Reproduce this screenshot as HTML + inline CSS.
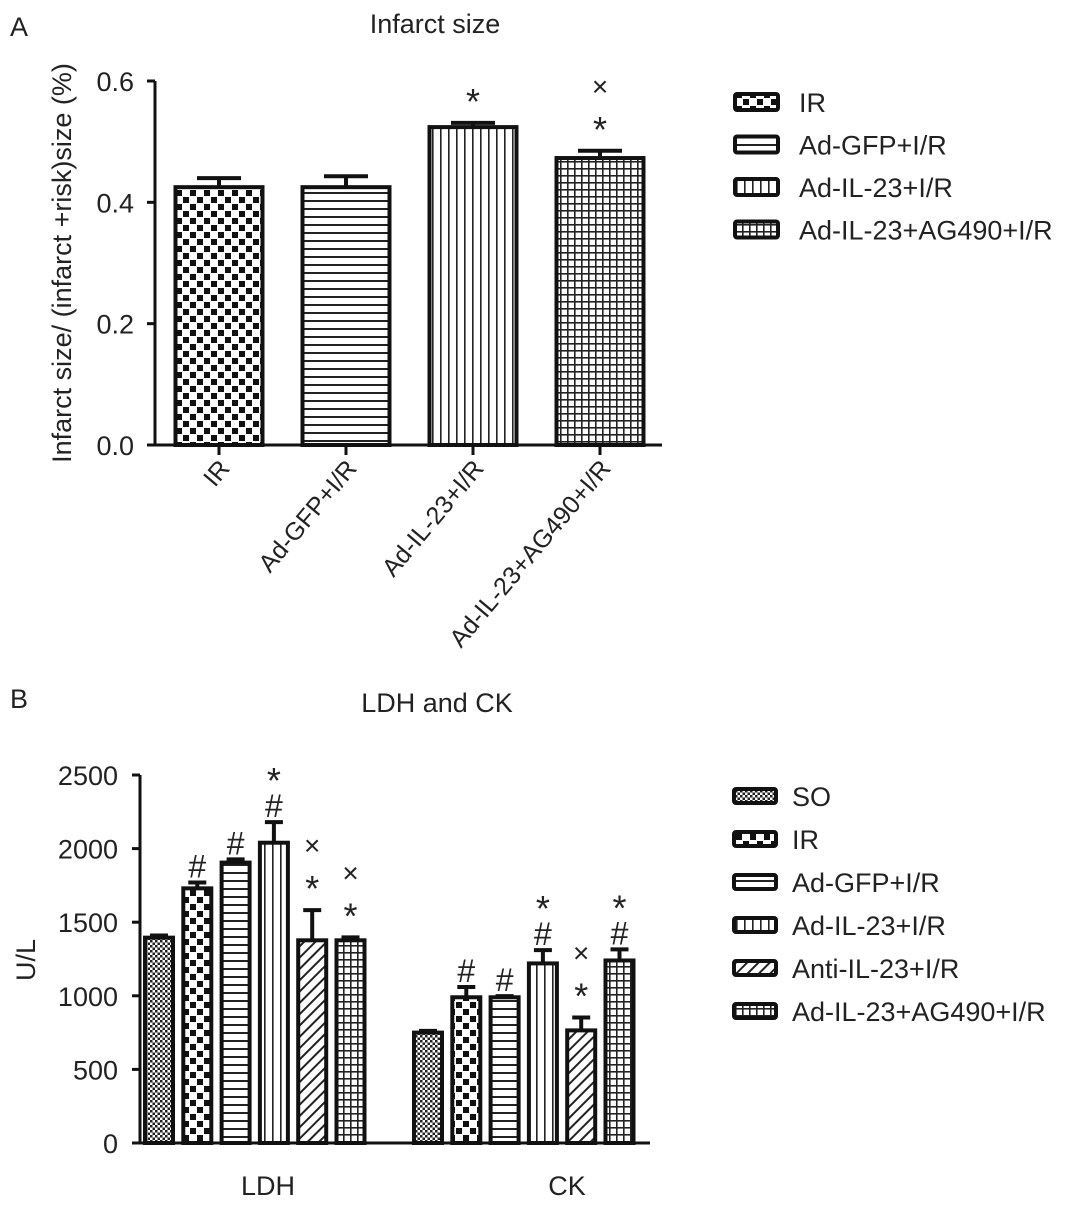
<!DOCTYPE html>
<html><head><meta charset="utf-8"><style>
html,body{margin:0;padding:0;background:#fff;}
svg{display:block;font-family:"Liberation Sans",sans-serif;}
</style></head><body>
<svg id="s" width="1085" height="1208" viewBox="0 0 1085 1208" xmlns="http://www.w3.org/2000/svg">
<defs>
<pattern id="p-so" width="5" height="5" patternUnits="userSpaceOnUse"><rect width="5" height="5" fill="#fff"/><rect width="2.5" height="2.5" fill="#222"/><rect x="2.5" y="2.5" width="2.5" height="2.5" fill="#222"/></pattern>
<pattern id="p-ir" width="14" height="14" patternUnits="userSpaceOnUse"><rect width="14" height="14" fill="#fff"/><rect x="1" y="1" width="6" height="6" fill="#111"/><rect x="8" y="8" width="6" height="6" fill="#111"/></pattern>
<pattern id="p-gfp" width="8" height="8" patternUnits="userSpaceOnUse"><rect width="8" height="8" fill="#fff"/><rect y="0" width="8" height="2" fill="#222"/></pattern>
<pattern id="p-il" width="8" height="8" patternUnits="userSpaceOnUse"><rect width="8" height="8" fill="#fff"/><rect x="0" width="1.6" height="8" fill="#222"/></pattern>
<pattern id="p-anti" width="8" height="8" patternUnits="userSpaceOnUse" patternTransform="rotate(45)"><rect width="8" height="8" fill="#fff"/><rect width="2" height="8" fill="#222"/></pattern>
<pattern id="p-ag" width="7" height="7" patternUnits="userSpaceOnUse"><rect width="7" height="7" fill="#fff"/><rect width="1.6" height="7" fill="#222"/><rect width="7" height="1.6" fill="#222"/></pattern>
</defs>
<g id="A"></g>
<g id="B"></g>
</svg>
<script>
// Panel A data
const aCats = ["IR","Ad-GFP+I/R","Ad-IL-23+I/R","Ad-IL-23+AG490+I/R"];
const aVals = [0.425, 0.425, 0.524, 0.473];
const aErrs = [0.015, 0.018, 0.007, 0.012];
const aMarks = [[], [], ["*"], ["*","×"]];
const aTicks = [0.0, 0.2, 0.4, 0.6];
const aPats = ["p-ir","p-gfp","p-il","p-ag"];
// Panel B data
const bGroups = ["LDH","CK"];
const bSeries = ["SO","IR","Ad-GFP+I/R","Ad-IL-23+I/R","Anti-IL-23+I/R","Ad-IL-23+AG490+I/R"];
const bLDH = [1395, 1730, 1905, 2040, 1377, 1377];
const bLDHerr = [15, 40, 22, 140, 205, 20];
const bCK = [750, 990, 990, 1220, 765, 1240];
const bCKerr = [12, 70, 8, 90, 88, 75];
const bLDHmarks = [[],["#"],["#"],["#","*"],["*","×"],["*","×"]];
const bCKmarks = [[],["#"],["#"],["#","*"],["*","×"],["#","*"]];
const bTicks = [0,500,1000,1500,2000,2500];
const bPats = ["p-so","p-ir","p-gfp","p-il","p-anti","p-ag"];

const NS="http://www.w3.org/2000/svg";
const FS=27;
function mk(parent,tag,attrs,text){const e=document.createElementNS(NS,tag);for(const k in attrs)e.setAttribute(k,attrs[k]);if(text!==undefined)e.textContent=text;parent.appendChild(e);return e;}

function mark(g,x,yTop,syms){
  let c=yTop;
  syms.forEach((s,k)=>{
    if(k===0) c = yTop - (s==="#"?16:30);
    else c -= 34;
    const fs = s==="*"?36:(s==="#"?32:28);
    const go = s==="*"?21:(s==="#"?11:9);
    const t=mk(g,"text",{x:x,y:c+go,"text-anchor":"middle","font-size":fs,fill:"#222"},s);
    
    
  });
}

// ---------- Panel A ----------
(function(){
  const g=document.getElementById("A");
  const ax=155, y0=445, y1=81, vmax=0.6;
  const y=v=>y0-(v/vmax)*(y0-y1);
  const step=127, first=219, bw=87;
  const xc=i=>first+i*step;
  let t=mk(g,"text",{x:10,y:36,"font-size":FS,fill:"#222"},"A");
  
  t=mk(g,"text",{x:435,y:33,"text-anchor":"middle","font-size":FS,fill:"#222"},"Infarct size");
  
  t=mk(g,"text",{x:0,y:0,"text-anchor":"middle","font-size":FS,fill:"#222",transform:"translate(71,263) rotate(-90)"},"Infarct size/ (infarct +risk)size (%)");
  
  aCats.forEach((c,i)=>{
    const r=mk(g,"rect",{x:xc(i)-bw/2,y:y(aVals[i]),width:bw,height:y0-y(aVals[i]),fill:"url(#"+aPats[i]+")",stroke:"#111","stroke-width":4});
    
    const ye=y(aVals[i]+aErrs[i]);
    const e=mk(g,"path",{d:`M${xc(i)} ${y(aVals[i])}V${ye}M${xc(i)-22} ${ye}H${xc(i)+22}`,stroke:"#111","stroke-width":4,fill:"none"});
    
    mark(g,xc(i),ye,aMarks[i]);
    const l=mk(g,"line",{x1:xc(i),x2:xc(i),y1:y0,y2:y0+10,stroke:"#111","stroke-width":3});
    
    const tx=mk(g,"text",{x:0,y:0,"text-anchor":"end","font-size":25,fill:"#222",transform:`translate(${xc(i)+12},${y0+24}) rotate(-50)`},c);
    
  });
  let a=mk(g,"path",{d:`M${ax} ${y1}V${y0}M${ax-8} ${y0}H662`,stroke:"#111","stroke-width":3,fill:"none"});
  
  aTicks.forEach(v=>{
    const l=mk(g,"line",{x1:ax-8,x2:ax,y1:y(v),y2:y(v),stroke:"#111","stroke-width":3});
    
    const tx=mk(g,"text",{x:134,y:y(v)+10,"text-anchor":"end","font-size":FS,fill:"#222"},v.toFixed(1));
    
  });
  aCats.forEach((c,i)=>{
    const yy=102+i*42.5;
    const r=mk(g,"rect",{x:735,y:yy-8,width:43,height:16,rx:2,fill:"url(#"+aPats[i]+")",stroke:"#111","stroke-width":4});
    
    const tx=mk(g,"text",{x:799,y:yy+10,"font-size":FS,fill:"#222"},c);
    
  });
})();

// ---------- Panel B ----------
(function(){
  const g=document.getElementById("B");
  const ax=140, y0=1143, y1=775, vmax=2500;
  const y=v=>y0-(v/vmax)*(y0-y1);
  const bw=28, step=38.3, gStart=[159, 428], labelX=[268,567];
  let t=mk(g,"text",{x:10,y:708,"font-size":FS,fill:"#222"},"B");
  
  t=mk(g,"text",{x:437,y:712,"text-anchor":"middle","font-size":FS,fill:"#222"},"LDH and CK");
  
  t=mk(g,"text",{x:0,y:0,"text-anchor":"middle","font-size":FS,fill:"#222",transform:"translate(35,960) rotate(-90)"},"U/L");
  
  const sets=[[bLDH,bLDHerr,bLDHmarks],[bCK,bCKerr,bCKmarks]];
  sets.forEach((s,gi)=>{
    s[0].forEach((v,i)=>{
      const xc=gStart[gi]+i*step;
      const r=mk(g,"rect",{x:xc-bw/2,y:y(v),width:bw,height:y0-y(v),fill:"url(#"+bPats[i]+")",stroke:"#111","stroke-width":4});
      
      const ye=y(v+s[1][i]);
      const e=mk(g,"path",{d:`M${xc} ${y(v)}V${ye}M${xc-9} ${ye}H${xc+9}`,stroke:"#111","stroke-width":4,fill:"none"});
      
      mark(g,xc,ye,s[2][i]);
    });
    const tx=mk(g,"text",{x:labelX[gi],y:1195,"text-anchor":"middle","font-size":FS,fill:"#222"},bGroups[gi]);
    
  });
  let a=mk(g,"path",{d:`M${ax} ${y1}V${y0}M${ax-8} ${y0}H650`,stroke:"#111","stroke-width":3,fill:"none"});
  
  bTicks.forEach(v=>{
    const l=mk(g,"line",{x1:ax-8,x2:ax,y1:y(v),y2:y(v),stroke:"#111","stroke-width":3});
    
    const tx=mk(g,"text",{x:118,y:y(v)+10,"text-anchor":"end","font-size":FS,fill:"#222"},String(v));
    
  });
  bSeries.forEach((c,i)=>{
    const yy=796+i*43;
    const r=mk(g,"rect",{x:734,y:yy-7,width:42,height:14,rx:2,fill:"url(#"+bPats[i]+")",stroke:"#111","stroke-width":4});
    
    const tx=mk(g,"text",{x:792,y:yy+10,"font-size":FS,fill:"#222"},c);
    
  });
})();
</script>
</body></html>
